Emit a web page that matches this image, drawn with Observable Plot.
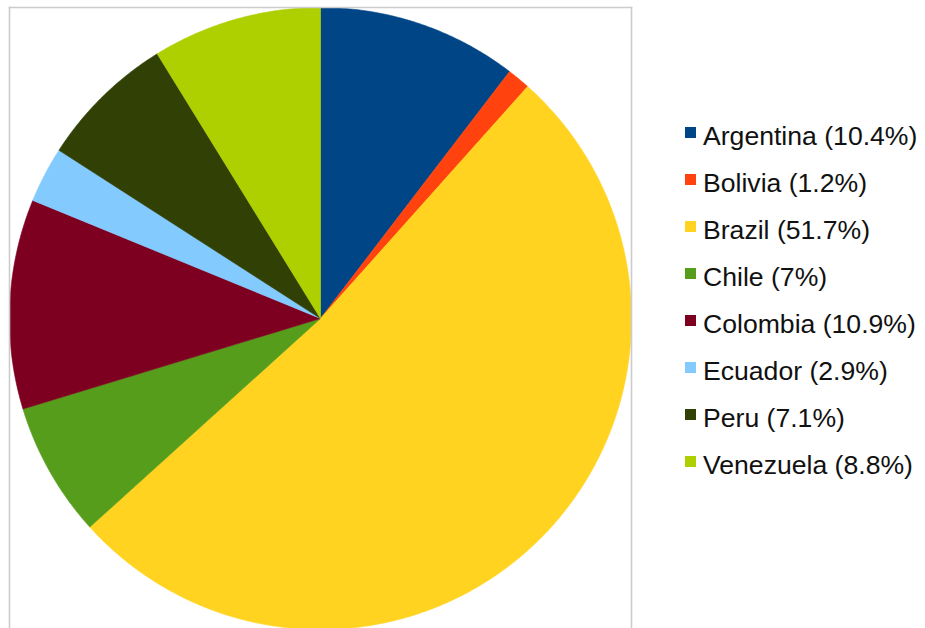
<!DOCTYPE html>
<html><head><meta charset="utf-8">
<script src="https://cdn.jsdelivr.net/npm/d3@7"></script>
<script src="https://cdn.jsdelivr.net/npm/@observablehq/plot@0.6"></script>
<style>
body{margin:0;background:#fff;font-family:"Liberation Sans",Arial,Helvetica,sans-serif;}
#wrap{position:relative;width:925px;height:628px;overflow:hidden;}
#legend{position:absolute;left:685px;top:0;}
.item{position:absolute;left:0;height:26px;line-height:26px;font-size:26.6px;color:#111;white-space:nowrap;}
.sw{position:absolute;left:0;top:6px;width:11px;height:11px;}
.lab{position:absolute;left:18px;top:2px;}
</style></head><body><div id="wrap"></div>
<script>
// Data
const countries = ["Argentina", "Bolivia", "Brazil", "Chile", "Colombia", "Ecuador", "Peru", "Venezuela"];
const shares = [10.4, 1.2, 51.7, 7, 10.9, 2.9, 7.1, 8.8];

// Style
const palette = ["#004586", "#ff420e", "#ffd320", "#579d1c", "#7e0021", "#83caff", "#314004", "#aecf00"];

// Layout
const W = 925, H = 628, mL = 9, mR = 294, mT = 7, mB = 0;
const R = (W - mL - mR) / 2; // pixel radius
const yMin = 1 - (H - mT - mB) / R;

// Build slice outlines from the pie layout
const arcs = d3.pie().sort(null)(shares);
const pts = [];
arcs.forEach((a, i) => {
  const c = countries[i];
  pts.push({country: c, x: 0, y: 0});
  const n = Math.max(2, Math.ceil((a.endAngle - a.startAngle) / (Math.PI / 360)));
  for (let k = 0; k <= n; k++) {
    const t = a.startAngle + (a.endAngle - a.startAngle) * k / n;
    pts.push({country: c, x: Math.sin(t), y: Math.cos(t)});
  }
  pts.push({country: c, x: 0, y: 0});
});

const chart = Plot.plot({
  width: W, height: H,
  marginLeft: mL, marginRight: mR, marginTop: mT, marginBottom: mB,
  x: {domain: [-1, 1], axis: null},
  y: {domain: [yMin, 1], axis: null},
  color: {domain: countries, range: palette},
  style: {background: "white", overflow: "visible"},
  marks: [
    Plot.line(pts, {x: "x", y: "y", z: "country", fill: "country", stroke: "country", strokeWidth: 0.6}),
    Plot.frame({anchor: "top", stroke: "#cccccc", strokeWidth: 1.6}),
    Plot.frame({anchor: "left", stroke: "#cccccc", strokeWidth: 1.6}),
    Plot.frame({anchor: "right", stroke: "#cccccc", strokeWidth: 1.6})
  ]
});

const wrap = document.getElementById("wrap");
wrap.appendChild(chart);

const legend = document.createElement("div");
legend.id = "legend";
countries.forEach((c, i) => {
  const item = document.createElement("div");
  item.className = "item";
  item.style.top = (121 + i * 47) + "px";
  const sw = document.createElement("div");
  sw.className = "sw";
  sw.style.background = palette[i];
  const lab = document.createElement("span");
  lab.className = "lab";
  lab.textContent = `${c} (${shares[i]}%)`;
  item.appendChild(sw);
  item.appendChild(lab);
  legend.appendChild(item);
});
wrap.appendChild(legend);
</script>
</body></html>
